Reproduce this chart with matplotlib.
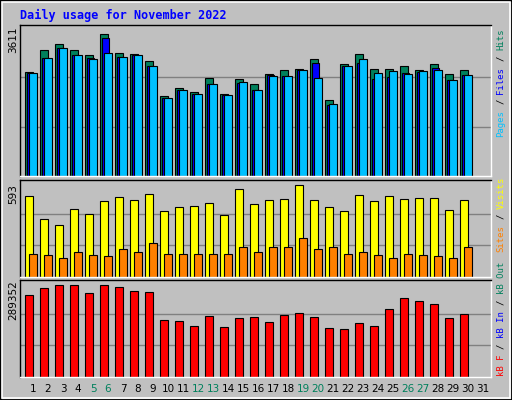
import matplotlib.pyplot as plt
from matplotlib.patches import Rectangle

# --- DATA ---
days = list(range(1, 31))
hits = [2541, 3081, 3222, 3081, 2940, 3456, 3011, 2987, 2800, 1955,
        2143, 2049, 2401, 2002, 2354, 2237, 2479, 2588, 2612, 2846,
        1861, 2729, 2964, 2612, 2612, 2682, 2588, 2729, 2495, 2588]
files = [2502, 2870, 3128, 2940, 2870, 3363, 2893, 2956, 2682, 1900,
         2096, 2010, 2237, 1971, 2276, 2096, 2463, 2448, 2588, 2753,
         1744, 2682, 2753, 2354, 2424, 2518, 2541, 2635, 2346, 2471]
pages = [2502, 2870, 3128, 2940, 2846, 3011, 2893, 2956, 2682, 1908,
         2096, 2002, 2237, 1971, 2283, 2096, 2448, 2448, 2588, 2401,
         1767, 2682, 2846, 2518, 2565, 2495, 2565, 2588, 2330, 2471]
visits = [508, 364, 327, 426, 395, 476, 501, 483, 520, 414,
          439, 445, 464, 389, 551, 453, 483, 489, 576, 483,
          439, 414, 514, 476, 508, 489, 495, 495, 420, 483]
sites = [146, 139, 121, 158, 139, 133, 177, 158, 214, 146,
         146, 146, 146, 146, 189, 158, 189, 189, 245, 177,
         189, 146, 158, 139, 121, 146, 139, 133, 121, 189]
kbytes = [250344, 271890, 281124, 281124, 256500, 281124, 274968, 262656, 259578, 173394,
          170316, 154926, 185706, 151848, 179550, 182628, 167238, 188784, 194940, 182628,
          148770, 145692, 164160, 154926, 207252, 241110, 231876, 222642, 179550, 191862]
max_hits, max_visits, max_kb = 3611, 593, 289352
weekends = [5, 6, 12, 13, 19, 20, 26, 27]

BG = "#C0C0C0"
W, H = 512, 400
fig = plt.figure(figsize=(5.12, 4.0), dpi=100, facecolor=BG)
fig.patches.append(Rectangle((0, 0), 1, 1, transform=fig.transFigure, fill=False,
                             edgecolor="black", lw=2))
fig.patches.append(Rectangle((2 / W, 2 / H), 1 - 4 / W, 1 - 4 / H, transform=fig.transFigure,
                             fill=False, edgecolor="white", lw=1.2))

XL = (0.133, 31.53)


def panel(top, bottom, ymax):
    ax = fig.add_axes([20 / W, (H - bottom) / H, 471 / W, (bottom - top) / H], facecolor=BG)
    ax.set_xlim(*XL)
    ax.set_ylim(0, ymax * 1.02)
    ax.set_xticks([])
    ax.set_yticks([])
    for s in ax.spines.values():
        s.set_color("black")
        s.set_linewidth(1)
    ax.spines["right"].set_color("white")
    ax.spines["bottom"].set_color("white")
    for f in (1 / 3, 2 / 3):
        ax.axhline(ymax * f, color="#808080", lw=1, zorder=0)
    return ax


kw = dict(edgecolor="black", linewidth=0.8, align="edge")
ax1 = panel(25, 176, max_hits)
ax1.bar([d - 0.53 for d in days], hits, 0.5, color="#00805C", **kw)
ax1.bar([d - 0.42 for d in days], files, 0.5, color="#0000FF", **kw)
ax1.bar([d - 0.3 for d in days], pages, 0.55, color="#00C0FF", **kw)

ax2 = panel(180, 277, max_visits)
ax2.bar([d - 0.53 for d in days], visits, 0.5, color="#FFFF00", **kw)
ax2.bar([d - 0.27 for d in days], sites, 0.55, color="#FF8000", **kw)

ax3 = panel(280, 377, max_kb)
ax3.bar([d - 0.53 for d in days], kbytes, 0.5, color="#FF0000", **kw)

# max labels on the left
for txt, y in [(str(max_hits), 40), (str(max_visits), 194), (str(max_kb), 300)]:
    fig.text(13 / W, 1 - y / H, txt, rotation=90, ha="center", va="center",
             fontsize=7.5, family="DejaVu Sans")

ADV = 0.602 * 6.5 * 100 / 72  # mono char advance in px


def colored_label(parts, x, y_bottom):
    pos = 0
    for p, c in parts:
        lead = len(p) - len(p.lstrip())
        word = p.strip()
        y = y_bottom - (pos + lead) * ADV
        fig.text(x / W, 1 - y / H, word, rotation=90, ha="center", va="bottom",
                 fontsize=6.5, family="DejaVu Sans Mono", color=c)
        pos += len(p)


colored_label([("Pages", "#00C0FF"), (" / ", "black"), ("Files", "#0000FF"),
               (" / ", "black"), ("Hits", "#00805C")], 501, 137)
colored_label([("Sites", "#FF8000"), (" / ", "black"), ("Visits", "#FFFF00")], 501, 252)
colored_label([("kB F", "#FF0000"), (" / ", "black"), ("kB In", "#0000FF"),
               (" / ", "black"), ("kB Out", "#00805C")], 501, 376)

# day labels
for d in range(1, 32):
    x = 20 + (d - XL[0]) / (XL[1] - XL[0]) * 471
    fig.text(x / W, 1 - 389 / H, str(d), ha="center", va="center", fontsize=7.5,
             color="#00805C" if d in weekends else "black")

fig.text(20 / W, 1 - 15 / H, "Daily usage for November 2022", ha="left", va="center",
         fontsize=8.5, family="DejaVu Sans Mono", fontweight="bold", color="#0000FF")

fig.savefig("out.png", dpi=100, facecolor=BG)
